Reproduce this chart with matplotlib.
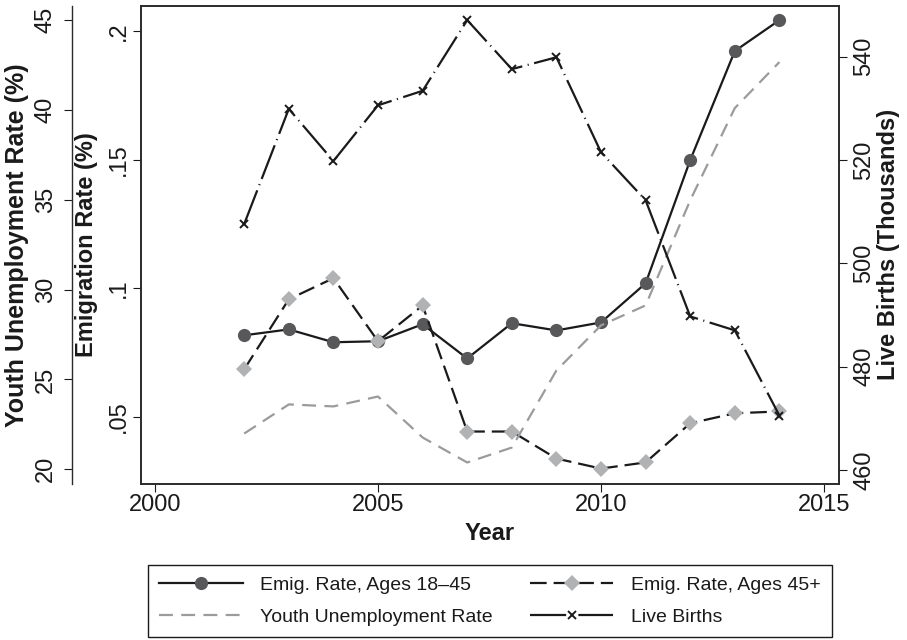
import matplotlib
matplotlib.use('Agg')
import matplotlib.pyplot as plt

# ---------------- data ----------------
years = [2002, 2003, 2004, 2005, 2006, 2007, 2008, 2009, 2010, 2011, 2012, 2013, 2014]
emig_18_45 = [0.0818, 0.0841, 0.0791, 0.0795, 0.0861, 0.0728, 0.0865,
              0.0837, 0.0868, 0.1020, 0.1499, 0.1923, 0.2043]
emig_45_plus = [0.0686, 0.0958, 0.1040, 0.0795, 0.0934, 0.0444, 0.0444,
                0.0339, 0.0300, 0.0324, 0.0476, 0.0515, 0.0522]
youth_unemp = [21.99, 23.61, 23.50, 24.05, 21.77, 20.38, 21.21,
               25.50, 28.01, 29.12, 34.97, 40.10, 42.66]
live_births = [507.6, 529.9, 519.8, 530.6, 533.4, 547.1, 537.6,
               539.9, 521.5, 512.2, 489.7, 487.0, 470.5]

series_labels = ['Emig. Rate, Ages 18\u201345', 'Emig. Rate, Ages 45+',
                 'Youth Unemployment Rate', 'Live Births']

year_ticks = [2000, 2005, 2010, 2015]
emig_ticks = [0.05, 0.10, 0.15, 0.20]
emig_tick_labels = ['.05', '.1', '.15', '.2']
unemp_ticks = [20, 25, 30, 35, 40, 45]
births_ticks = [460, 480, 500, 520, 540]

# ---------------- style ----------------
plt.rcParams['font.family'] = ['Liberation Sans', 'DejaVu Sans']
plt.rcParams['lines.scale_dashes'] = False

BLACK = '#1a1a1a'
FRAME = '#2b2b2b'
CIRC = '#58585a'
DIAM = '#b1b2b4'
GRAY = '#9a9b9d'
TICK_FS = 17
LAB_FS = 17

W, H = 907, 640
fig = plt.figure(figsize=(W / 100, H / 100), dpi=100)
L, R, T, B = 141, 839, 6, 483.5
ax = fig.add_axes([L / W, 1 - B / H, (R - L) / W, (B - T) / H])
ax_u = ax.twinx()
ax_b = ax.twinx()

# ---------------- lines ----------------
l1, = ax.plot(years, emig_18_45, color=BLACK, lw=1.6, marker='o', ms=9.5,
              mfc=CIRC, mec=CIRC, mew=0, label=series_labels[0])
l2, = ax.plot(years, emig_45_plus, color=BLACK, lw=1.6, ls=(0, (12, 5)),
              marker='D', ms=8.5, mfc=DIAM, mec=DIAM, mew=0, label=series_labels[1])
l3, = ax_u.plot(years, youth_unemp, color=GRAY, lw=1.6, ls=(0, (10, 6)),
                label=series_labels[2])
l4, = ax_b.plot(years, live_births, color=BLACK, lw=1.6, ls=(0, (26, 4, 0.8, 4)),
                marker='x', ms=6, mew=1.4, mec=BLACK, label=series_labels[3])

# ---------------- limits ----------------
ax.set_xlim(1999.686, 2015.336)
ax.set_ylim(0.0242, 0.2098)
ax_u.set_ylim(19.21, 45.78)
ax_b.set_ylim(457.34, 549.83)

# ---------------- spines ----------------
for s in ax.spines.values():
    s.set_linewidth(1.4)
    s.set_color(FRAME)
for s in ax_u.spines.values():
    s.set_visible(False)
for s in ax_b.spines.values():
    s.set_visible(False)
ax_u.spines['left'].set_visible(True)
ax_u.spines['left'].set_position(('outward', 69 * 0.72))
ax_u.spines['left'].set_linewidth(1.0)
ax_u.spines['left'].set_color(FRAME)

# ---------------- ticks ----------------
ax.set_xticks(year_ticks)
ax.set_yticks(emig_ticks, emig_tick_labels)
ax_u.set_yticks(unemp_ticks)
ax_b.set_yticks(births_ticks)

ax.tick_params(axis='x', direction='out', length=5.8, width=0.8, pad=1.5,
               labelsize=TICK_FS, colors=BLACK)
ax.tick_params(axis='y', direction='out', length=5.8, width=0.8, pad=2.5,
               labelsize=TICK_FS, labelrotation=90, colors=BLACK, right=False)
ax_u.yaxis.tick_left()
ax_u.tick_params(axis='y', direction='out', length=5.8, width=0.8, pad=5,
                 labelsize=TICK_FS, labelrotation=90, colors=BLACK,
                 left=True, right=False, labelleft=True, labelright=False)
ax_b.tick_params(axis='y', direction='out', length=5.8, width=0.8, pad=4.7,
                 labelsize=TICK_FS, labelrotation=90, colors=BLACK)
for a in (ax, ax_u, ax_b):
    for lbl in a.get_yticklabels():
        lbl.set_va('center')

# ---------------- axis labels ----------------
ax.set_xlabel('Year', fontsize=LAB_FS, fontweight='bold', color=BLACK)
ax.xaxis.set_label_coords(0.5, -(522.5 - B) / (B - T))
ax.xaxis.label.set_va('top')

ax.set_ylabel('Emigration Rate (%)', fontsize=LAB_FS, fontweight='bold', color=BLACK)
ax.yaxis.set_label_coords((86.7 - L) / (R - L), 0.5)
ax.yaxis.label.set_va('center')

ax_u.yaxis.set_label_position('left')
ax_u.set_ylabel('Youth Unemployment Rate (%)', fontsize=18, fontweight='bold',
                color=BLACK)
ax_u.yaxis.set_label_coords((17 - L) / (R - L), 0.5)
ax_u.yaxis.label.set_va('center')

ax_b.set_ylabel('Live Births (Thousands)', fontsize=LAB_FS, fontweight='bold',
                color=BLACK, rotation=90)
ax_b.yaxis.set_label_coords((889 - L) / (R - L), 0.5)
ax_b.yaxis.label.set_va('center')

# ---------------- legend ----------------
leg = fig.legend([l1, l3, l2, l4],
                 [series_labels[0], series_labels[2], series_labels[1], series_labels[3]],
                 loc='upper left',
                 bbox_to_anchor=(148 / W, 1 - 637 / H, 684 / W, 72 / H),
                 mode='expand', ncol=2, fontsize=14, frameon=True, fancybox=False,
                 edgecolor=BLACK, framealpha=1, borderaxespad=0, handlelength=4.3,
                 handletextpad=0.9, labelspacing=0.75, borderpad=0.58, numpoints=1)
leg.get_frame().set_linewidth(1.0)
for t in leg.get_texts():
    t.set_color(BLACK)

fig.savefig('out.png', dpi=100)
